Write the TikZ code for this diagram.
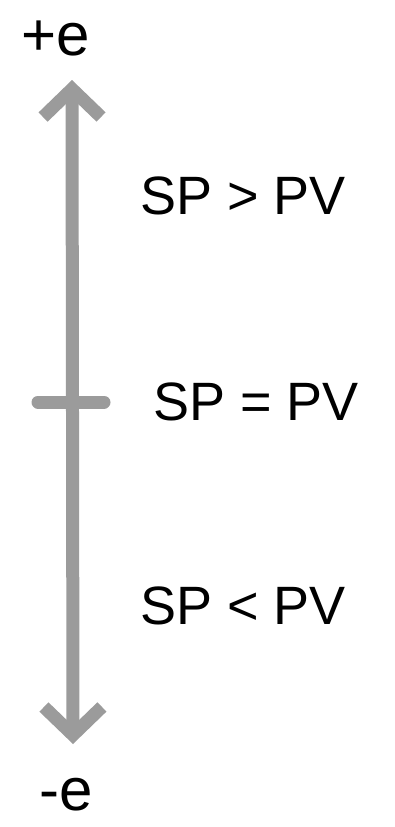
\documentclass[tikz,border=0pt]{standalone}
\usepackage{fontspec}
\setmainfont{Liberation Sans}
\usetikzlibrary{arrows.meta}
\definecolor{axisgray}{RGB}{155,155,155}
\tikzset{
  axis/.style={draw=axisgray, line width=13pt, line cap=round, line join=round},
  barbtip/.tip={Straight Barb[length=28pt,width=58pt]},
  lbl/.style={font=\fontsize{54}{60}\selectfont, text=black, inner sep=0pt},
  endlbl/.style={font=\fontsize{60}{64}\selectfont, text=black, inner sep=0pt}
}
\begin{document}
\begin{tikzpicture}[x=1pt,y=-1pt]
\useasboundingbox (0,0) rectangle (394,827);
\coordinate (top) at (72,80);
\coordinate (bot) at (73,744);
\coordinate (tl) at (38,402);
\coordinate (tr) at (104,402);
\draw[axis, barbtip-barbtip] (top) -- (bot);
\draw[axis] (tl) -- (tr);
\node[endlbl] (pe) at (56,38) {+e};
\node[endlbl] (me) at (66,795) {-e};
\node[lbl] (gt) at (243,196) {SP > PV};
\node[lbl] (eq) at (256,402) {SP = PV};
\node[lbl] (lt) at (243,606) {SP < PV};
\end{tikzpicture}
\end{document}
